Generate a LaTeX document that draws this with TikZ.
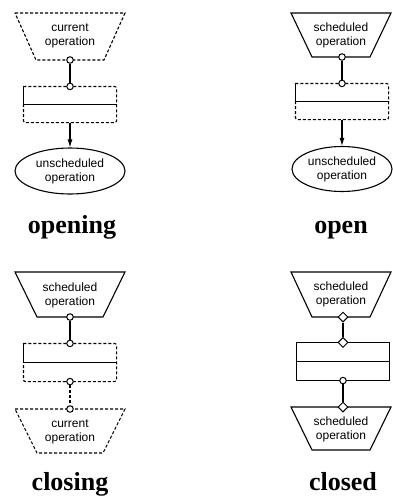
\documentclass[tikz,border=0pt]{standalone}
\usepackage{fontspec}
\setmainfont{Liberation Serif}
\newfontfamily\diagfont{Liberation Sans}
\usetikzlibrary{shapes.geometric,arrows.meta}
\newcommand\drawtrap[6]{\draw[#6] (#1-#4,#2) -- (#1+#4,#2) -- (#1+#5,#3) -- (#1-#5,#3) -- cycle;}
\begin{document}
\begin{tikzpicture}[x=1pt,y=-1pt,
 line width=1.1pt,
 dsh/.style={dash pattern=on 3pt off 2pt},
 lbl/.style={font=\diagfont\fontsize{12}{14}\selectfont, align=center, inner sep=0},
 title/.style={font=\bfseries\fontsize{26}{30}\selectfont, inner sep=0, anchor=base},
 port/.style={circle, draw, fill=white, minimum size=6.5pt, inner sep=0, line width=1pt},
 dport/.style={diamond, draw, fill=white, minimum size=10pt, inner sep=0, line width=1pt},
 box/.style={minimum width=92pt, inner sep=0},
 oval/.style={ellipse, draw, inner sep=0, font=\diagfont\fontsize{12}{14}\selectfont, align=center}
]
\useasboundingbox (0,0) rectangle (392,499);

% ---------- opening ----------
\drawtrap{70}{13}{60}{55}{34}{dsh}
\node[lbl] (t1) at (70,36) {current\\operation};
\node[box, minimum height=35pt] (r1) at (70,104.5) {};
\draw (r1.north west) -- (r1.west) -- (r1.east);
\draw[dsh, rounded corners=2pt] (r1.north west) -- (r1.north east) -- (r1.south east) -- (r1.south west) -- (r1.west);
\node[port] (p1) at (70,60) {};
\node[port] (p2) at (r1.north) {};
\draw (p1) -- (p2);
\node[oval, minimum width=110pt, minimum height=46pt] (e1) at (70,171) {unscheduled\\operation};
\draw[-{Latex[length=8pt,width=5pt]}] (r1.south) -- (e1.north);
\node[title] (l1) at (72,233) {opening};

% ---------- open ----------
\drawtrap{341}{13}{57}{50}{29}{}
\node[lbl] (t2) at (341,35) {scheduled\\operation};
\node[box, minimum height=35pt] (r2) at (342,101.5) {};
\draw (r2.north west) -- (r2.west) -- (r2.east);
\draw[dsh, rounded corners=2pt] (r2.north west) -- (r2.north east) -- (r2.south east) -- (r2.south west) -- (r2.west);
\node[port] (p3) at (342,57) {};
\node[port] (p4) at (r2.north) {};
\draw (p3) -- (p4);
\node[oval, minimum width=100pt, minimum height=45pt] (e2) at (342,169) {unscheduled\\operation};
\draw[-{Latex[length=8pt,width=5pt]}] (r2.south) -- (e2.north);
\node[title] (l2) at (341,233) {open};

% ---------- closing ----------
\drawtrap{70}{272}{317}{55}{33}{}
\node[lbl] (t3) at (70,295) {scheduled\\operation};
\node[box, minimum height=37pt] (r3) at (70,362.5) {};
\draw (r3.north west) -- (r3.west) -- (r3.east);
\draw[dsh, rounded corners=2pt] (r3.north west) -- (r3.north east) -- (r3.south east) -- (r3.south west) -- (r3.west);
\drawtrap{70}{409}{453}{55}{33}{dsh}
\node[lbl] (t4) at (70,432) {current\\operation};
\node[port] (p5) at (70,317) {};
\node[port] (p6) at (r3.north) {};
\node[port] (p7) at (r3.south) {};
\node[port] (p8) at (70,409) {};
\draw (p5) -- (p6);
\draw[dsh] (p7) -- (p8);
\node[title] (l3) at (70,490) {closing};

% ---------- closed ----------
\drawtrap{341}{272}{317}{50}{29}{}
\node[lbl] (t5) at (341,294) {scheduled\\operation};
\node[box, minimum height=37pt] (r4) at (343,361.5) {};
\draw (r4.north west) rectangle (r4.south east);
\draw (r4.west) -- (r4.east);
\drawtrap{341}{407}{450}{50}{29}{}
\node[lbl] (t6) at (341,429) {scheduled\\operation};
\node[dport] (p9) at (343,317) {};
\node[dport] (p10) at (r4.north) {};
\node[port] (p11) at (r4.south) {};
\node[dport] (p12) at (343,407) {};
\draw (p9) -- (p10);
\draw (p11) -- (p12);
\node[title] (l4) at (343,490) {closed};
\end{tikzpicture}
\end{document}
